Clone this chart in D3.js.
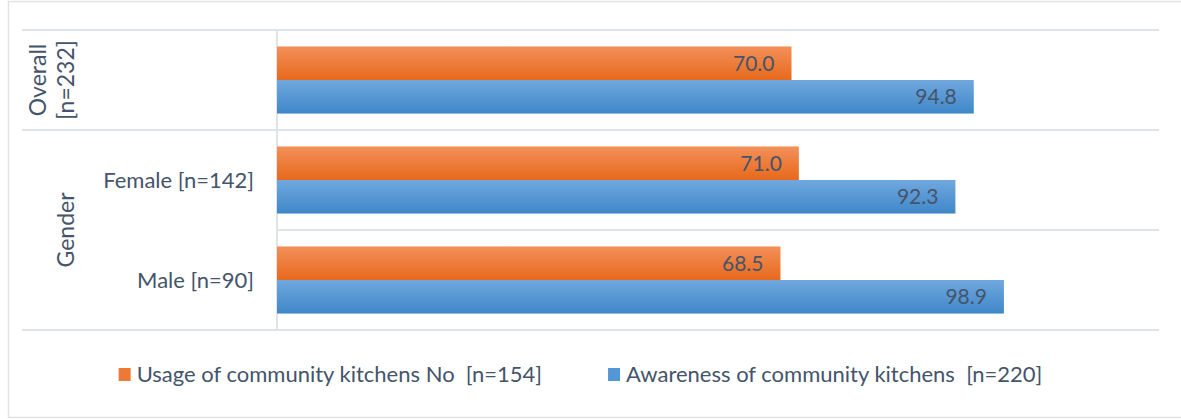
<!DOCTYPE html>
<html>
<head>
<meta charset="utf-8">
<script src="https://cdn.jsdelivr.net/npm/d3@7"></script>
<style>
  html, body { margin: 0; padding: 0; background: #fff; }
  svg { display: block; font-family: "Lato", "Open Sans", sans-serif; }
  svg text { white-space: pre; }
</style>
</head>
<body>
<svg id="chart" width="1181" height="419"></svg>
<script>
// Categories (top to bottom) and the group each one belongs to
const categories = ["Overall", "Female", "Male"];
const categoryLabels = ["", "Female [n=142]", "Male [n=90]"];
const groups = [
  { name: ["Overall", "[n=232]"], members: ["Overall"] },
  { name: ["Gender"], members: ["Female", "Male"] }
];

// Series (percent)
const seriesNames = ["Usage of community kitchens No  [n=154]", "Awareness of community kitchens  [n=220]"];
const usageNo = [70.0, 71.0, 68.5];
const awareness = [94.8, 92.3, 98.9];
const xDomain = [0, 120];

const seriesValues = [usageNo, awareness];
const textColor = "#44546a";
const gridColor = "#dfe3ea";

const svg = d3.select("#chart");
const defs = svg.append("defs");

function gradient(id, top, bottom) {
  const g = defs.append("linearGradient").attr("id", id)
    .attr("x1", 0).attr("y1", 0).attr("x2", 0).attr("y2", 1);
  g.append("stop").attr("offset", "0%").attr("stop-color", top);
  g.append("stop").attr("offset", "100%").attr("stop-color", bottom);
}
gradient("gOrange", "#f3905a", "#e7691c");
gradient("gBlue", "#70a8de", "#3f87c9");
const fills = ["url(#gOrange)", "url(#gBlue)"];
const legendFills = ["#ec7a36", "#5497d5"];

// Chart border
svg.append("rect")
  .attr("x", 8.5).attr("y", 1.5).attr("width", 1180).attr("height", 416)
  .attr("fill", "none").attr("stroke", "#e3e3e3").attr("stroke-width", 1.5);

const plot = { left: 277, right: 1159, top: 30, bottom: 330 };

const x = d3.scaleLinear().domain(xDomain).range([plot.left, plot.right]);
const y = d3.scaleBand().domain(categories).range([plot.top, plot.bottom]).paddingInner(0).paddingOuter(0);
const ySub = d3.scaleBand().domain(d3.range(seriesNames.length))
  .range([0, y.bandwidth()]).paddingInner(0).paddingOuter(0.49);

// Category axis separators (multi-level)
const sepLines = [];
groups.forEach(g => {
  g.members.forEach((m, mi) => {
    sepLines.push({ y: y(m), x1: mi === 0 ? 22 : plot.left });
  });
});
sepLines.push({ y: plot.bottom, x1: 22 });
svg.append("g").selectAll("line").data(sepLines).join("line")
  .attr("x1", d => d.x1).attr("x2", plot.right)
  .attr("y1", d => d.y).attr("y2", d => d.y)
  .attr("stroke", gridColor).attr("stroke-width", 2);

// Vertical category axis line
svg.append("line")
  .attr("x1", plot.left).attr("x2", plot.left)
  .attr("y1", plot.top).attr("y2", plot.bottom)
  .attr("stroke", gridColor).attr("stroke-width", 2);

// Bars with value labels at the inside end
const barG = svg.append("g");
seriesValues.forEach((vals, si) => {
  barG.append("g").selectAll("rect").data(vals).join("rect")
    .attr("x", x(0))
    .attr("y", (d, i) => y(categories[i]) + ySub(si))
    .attr("width", d => x(d) - x(0))
    .attr("height", ySub.bandwidth())
    .attr("fill", fills[si]);
  barG.append("g").selectAll("text").data(vals).join("text")
    .attr("x", d => x(d) - 17)
    .attr("y", (d, i) => y(categories[i]) + ySub(si) + ySub.bandwidth() / 2 + 7.5)
    .attr("text-anchor", "end")
    .attr("fill", textColor)
    .attr("font-size", 21)
    .text(d => d.toFixed(1));
});

// Category labels
svg.append("g").selectAll("text").data(categories).join("text")
  .attr("x", 254)
  .attr("y", d => y(d) + y.bandwidth() / 2 + 8)
  .attr("text-anchor", "end")
  .attr("fill", textColor)
  .attr("font-size", 22)
  .text((d, i) => categoryLabels[i]);

// Group labels (rotated)
groups.forEach(g => {
  const y0 = y(g.members[0]);
  const y1 = y(g.members[g.members.length - 1]) + y.bandwidth();
  const cy = (y0 + y1) / 2;
  const lineGap = 28;
  const n = g.name.length;
  g.name.forEach((line, li) => {
    const bx = 74 - (n - 1 - li) * lineGap;
    svg.append("text")
      .attr("transform", `translate(${bx},${cy}) rotate(-90)`)
      .attr("text-anchor", "middle")
      .attr("fill", textColor)
      .attr("font-size", 23)
      .text(line);
  });
});

// Legend
const legend = svg.append("g");
const items = seriesNames.map((name, i) => {
  const g = legend.append("g");
  g.append("rect").attr("x", 0).attr("y", -14).attr("width", 12).attr("height", 13)
    .attr("fill", legendFills[i]);
  const t = g.append("text").attr("x", 18).attr("y", 0)
    .attr("fill", textColor).attr("font-size", 22).text(name);
  return { g, w: 18 + t.node().getComputedTextLength() };
});
const gap = 66;
const totalW = d3.sum(items, d => d.w) + gap * (items.length - 1);
let lx = 580.5 - totalW / 2;
items.forEach(it => {
  it.g.attr("transform", `translate(${lx},382)`);
  lx += it.w + gap;
});
</script>
</body>
</html>
